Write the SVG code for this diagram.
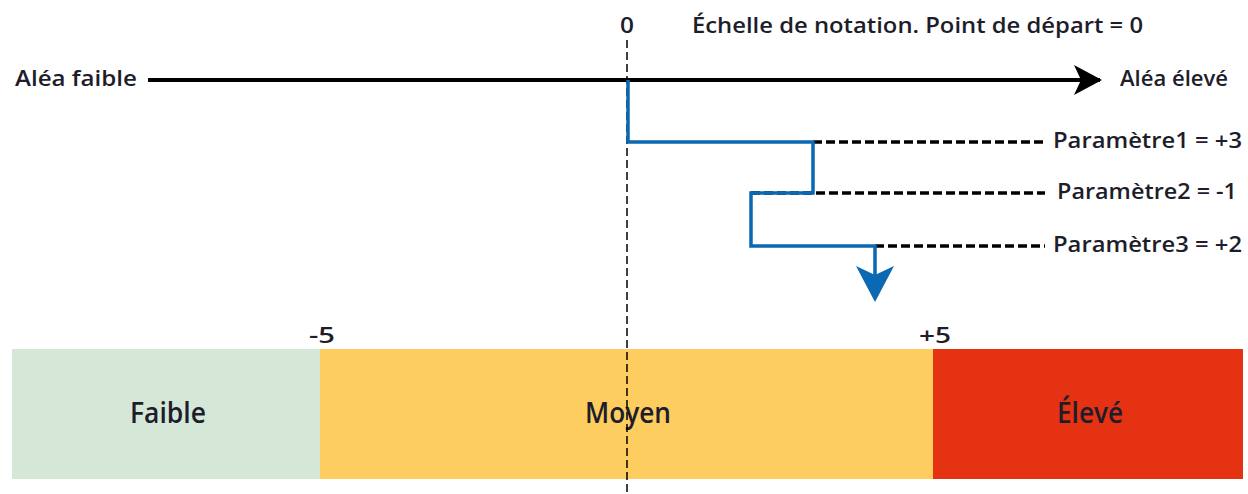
<svg xmlns="http://www.w3.org/2000/svg" width="1248" height="494" viewBox="0 0 1248 494">
<style>
text{font-family:"Open Sans","DejaVu Sans Condensed","Liberation Sans",sans-serif;fill:#1d1d2b;font-size:21px;font-weight:600}
.lbl{font-size:28px}
.num{font-size:22px}
.blue{fill:none;stroke:#0b68b2;stroke-width:3.5}
.dash{fill:none;stroke:#000;stroke-width:3.5;stroke-dasharray:9,4}
.vdash{fill:none;stroke:#000;stroke-width:1.5;stroke-dasharray:8,4}
</style>
<defs>
<marker id="ab" markerUnits="userSpaceOnUse" markerWidth="32" markerHeight="32" refX="26" refY="15" orient="auto">
<path d="M0,0 L28,15 L0,30 L7,15 Z" fill="#000"/>
</marker>
<marker id="bb" markerUnits="userSpaceOnUse" markerWidth="40" markerHeight="40" refX="32" refY="19" orient="auto">
<path d="M0,0 L36,19 L0,38 L9,19 Z" fill="#0b68b2"/>
</marker>
</defs>
<g id="scale">
<rect id="faible" x="12" y="349" width="308" height="130" fill="#d5e8d8"/>
<rect id="moyen" x="320" y="349" width="613" height="130" fill="#fdcd60"/>
<rect id="eleve" x="933" y="349" width="310" height="130" fill="#e53212"/>
<text class="lbl" x="168" y="423" text-anchor="middle" textLength="76" lengthAdjust="spacingAndGlyphs">Faible</text>
<text class="lbl" x="628" y="423" text-anchor="middle" textLength="86" lengthAdjust="spacingAndGlyphs">Moyen</text>
<text class="lbl" x="1090" y="423" text-anchor="middle" textLength="66" lengthAdjust="spacingAndGlyphs">Élevé</text>
<text class="num" x="322" y="343" text-anchor="middle" textLength="26" lengthAdjust="spacingAndGlyphs">-5</text>
<text class="num" x="935" y="343" text-anchor="middle" textLength="32" lengthAdjust="spacingAndGlyphs">+5</text>
</g>
<g id="axis">
<text x="15" y="86" textLength="122" lengthAdjust="spacingAndGlyphs">Aléa faible</text>
<text x="1120" y="86" textLength="108" lengthAdjust="spacingAndGlyphs">Aléa élevé</text>
<text class="num" x="627" y="33" text-anchor="middle" textLength="14" lengthAdjust="spacingAndGlyphs">0</text>
<text x="692" y="33" textLength="451" lengthAdjust="spacingAndGlyphs">Échelle de notation. Point de départ = 0</text>
</g>
<g id="params">
<text x="1053" y="148" textLength="189" lengthAdjust="spacingAndGlyphs">Paramètre1 = +3</text>
<text x="1057" y="199" textLength="180" lengthAdjust="spacingAndGlyphs">Paramètre2 = -1</text>
<text x="1053" y="252" textLength="189" lengthAdjust="spacingAndGlyphs">Paramètre3 = +2</text>
</g>
<g id="connectors">
<line class="vdash" x1="627" y1="40" x2="627" y2="494"/>
<line x1="148" y1="80" x2="1100" y2="80" stroke="#000" stroke-width="4" marker-end="url(#ab)"/>
<line class="dash" x1="813" y1="142" x2="1045" y2="142"/>
<line class="dash" x1="751" y1="193" x2="1045" y2="193"/>
<line class="dash" x1="875" y1="246" x2="1045" y2="246"/>
<polyline class="blue" points="628,80 628,142 813,142 813,193 751,193 751,246 875,246 875,298" marker-end="url(#bb)"/>
</g>
</svg>
